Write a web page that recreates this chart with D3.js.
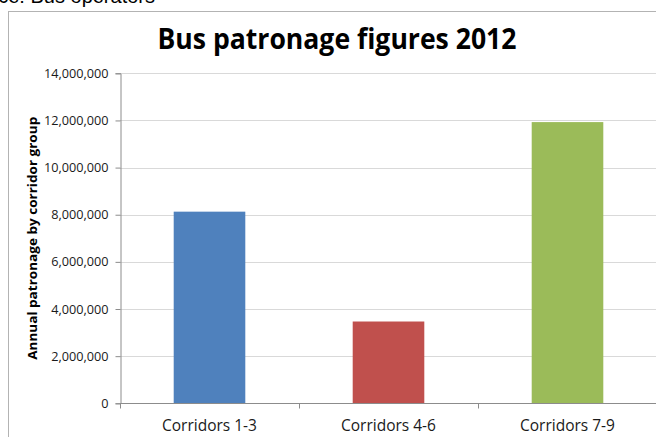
<!DOCTYPE html>
<html><head><meta charset="utf-8">
<script src="https://cdn.jsdelivr.net/npm/d3@7"></script>
<style>
html,body{margin:0;padding:0;background:#fff;overflow:hidden;}
svg{display:block;font-family:"Open Sans",sans-serif;}
</style></head>
<body>
<script>
const categories = ["Corridors 1-3", "Corridors 4-6", "Corridors 7-9"];
const values = [8130000, 3470000, 11930000];
const colors = ["#4f81bd", "#c0504d", "#9bbb59"];
const yTicks = [0, 2000000, 4000000, 6000000, 8000000, 10000000, 12000000, 14000000];
const title = "Bus patronage figures 2012";
const yTitle = "Annual patronage by corridor group";
const source = "Source: Bus operators";

const W = 656, H = 437;
const svg = d3.select("body").append("svg").attr("width", W).attr("height", H);

// source text clipped at top
svg.append("text").attr("x", 155).attr("y", 3).attr("text-anchor", "end")
  .attr("font-family", "Liberation Sans, Arial, sans-serif").attr("font-size", 20)
  .attr("fill", "#000").text(source);

// chart border
svg.append("rect").attr("x", 8.5).attr("y", 11.5).attr("width", 700).attr("height", 500)
  .attr("fill", "#fff").attr("stroke", "#b3b3b3").attr("stroke-width", 1);

const plot = {left: 120, right: 657, top: 73.3, bottom: 403.3};
const x = d3.scaleBand().domain(categories).range([plot.left, plot.right])
  .paddingInner(0.6).paddingOuter(0.3);
const y = d3.scaleLinear().domain([0, 14000000]).range([plot.bottom, plot.top]);

// gridlines
svg.append("g").selectAll("line").data(yTicks.filter(d => d > 0)).join("line")
  .attr("x1", plot.left).attr("x2", plot.right)
  .attr("y1", d => Math.round(y(d)) + 0.5).attr("y2", d => Math.round(y(d)) + 0.5)
  .attr("stroke", "#d9d9d9").attr("stroke-width", 1.2);

// bars
svg.append("g").selectAll("rect").data(values).join("rect")
  .attr("x", (d, i) => x(categories[i])).attr("width", x.bandwidth())
  .attr("y", d => y(d)).attr("height", d => y(0) - y(d))
  .attr("fill", (d, i) => colors[i]);

// y axis
const yAxis = svg.append("g").attr("transform", `translate(${plot.left + 0.5},0)`)
  .call(d3.axisLeft(y).tickValues(yTicks).tickFormat(d3.format(",")).tickSize(5).tickPadding(7));
yAxis.select(".domain").attr("stroke", "#8c8c8c");
yAxis.selectAll(".tick line").attr("stroke", "#8c8c8c");
yAxis.selectAll(".tick text").attr("font-family", "Open Sans").attr("font-size", 12.7).attr("fill", "#1a1a1a");

// x axis
const xAxisG = svg.append("g").attr("transform", `translate(0,${Math.round(plot.bottom) + 0.5})`);
xAxisG.append("line").attr("x1", plot.left).attr("x2", plot.right).attr("stroke", "#8c8c8c");
const bounds = [plot.left].concat(categories.map(c => x(c) + x.bandwidth() + x.step() * 0.3));
xAxisG.selectAll("line.tk").data(bounds).join("line").attr("class", "tk")
  .attr("x1", d => Math.round(d) + 0.5).attr("x2", d => Math.round(d) + 0.5)
  .attr("y1", 0).attr("y2", 5).attr("stroke", "#8c8c8c");
xAxisG.selectAll("text").data(categories).join("text")
  .attr("x", d => x(d) + x.bandwidth() / 2).attr("y", 27)
  .attr("text-anchor", "middle").attr("font-size", 15.5).attr("fill", "#1a1a1a")
  .text(d => d);

// title
svg.append("text").attr("x", 337).attr("y", 49).attr("text-anchor", "middle")
  .attr("font-size", 28).attr("font-weight", "bold").attr("fill", "#000")
  .attr("textLength", 359).attr("lengthAdjust", "spacingAndGlyphs").text(title);

// y title
svg.append("text").attr("transform", `translate(37,${(plot.top + plot.bottom) / 2}) rotate(-90)`)
  .attr("text-anchor", "middle").attr("font-size", 13).attr("font-weight", "bold").attr("fill", "#000")
  .attr("textLength", 243).attr("lengthAdjust", "spacingAndGlyphs").text(yTitle);
</script>
</body></html>
